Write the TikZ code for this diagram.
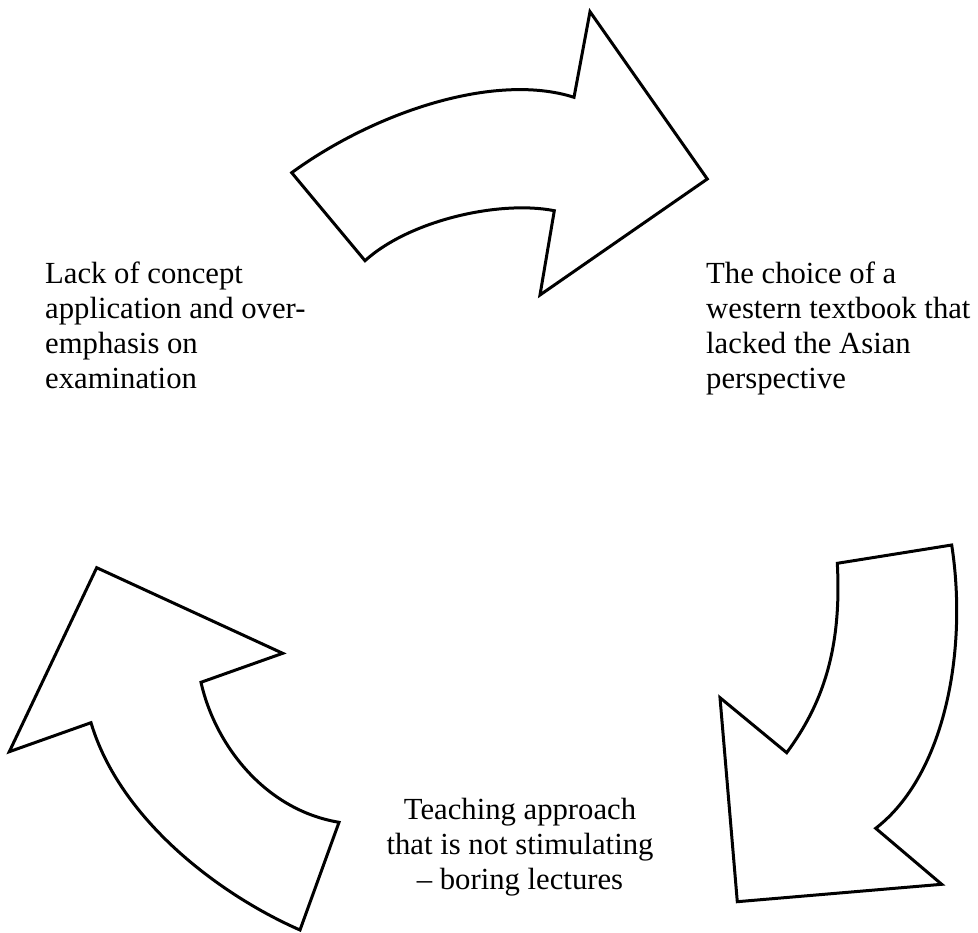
\documentclass[tikz,border=0pt]{standalone}
\usepackage{fontspec}
\setmainfont{Liberation Serif}
\tikzset{
  arrowshape/.style={draw=black, fill=white, line width=3pt, line join=miter},
  label/.style={inner sep=0pt, font=\fontsize{30.7}{35}\selectfont}
}
\begin{document}
\begin{tikzpicture}[x=1pt,y=-1pt]
\useasboundingbox (0,0) rectangle (978,933);
% top arrow
\draw[arrowshape] (291.7,172.7) .. controls (375,112) and (495,72) .. (574,97.3)
  -- (590,11.7) -- (707.3,179) -- (540,295) -- (554.3,210.7)
  .. controls (500,200) and (410,220) .. (365,260.7) -- cycle;
% bottom-right arrow
\draw[arrowshape] (837.3,563.3) -- (951.7,545)
  .. controls (968,650) and (945,775) .. (875.7,828.3)
  -- (941.7,884.3) -- (737.3,901.7) -- (720,697.7) -- (786.7,752.7)
  .. controls (822,705) and (842,650) .. (837.3,563.3) -- cycle;
% bottom-left arrow
\draw[arrowshape] (96.7,567.7) -- (282.7,653.3) -- (201,682.3)
  .. controls (215,745) and (265,810) .. (339,822.3)
  -- (300,930)
  .. controls (220,895) and (120,820) .. (91,722.7)
  -- (9.3,751.7) -- cycle;
% labels
\node[label, anchor=base west] (left) at (45,284)
  {\begin{tabular}[t]{@{}l@{}}Lack of concept\\application and over-\\emphasis on\\examination\end{tabular}};
\node[label, anchor=base west] (right) at (706,284)
  {\begin{tabular}[t]{@{}l@{}}The choice of a\\western textbook that\\lacked the Asian\\perspective\end{tabular}};
\node[label, anchor=base] (bottom) at (520,819)
  {\begin{tabular}[t]{@{}c@{}}Teaching approach\\that is not stimulating\\-- boring lectures\end{tabular}};
\end{tikzpicture}
\end{document}
